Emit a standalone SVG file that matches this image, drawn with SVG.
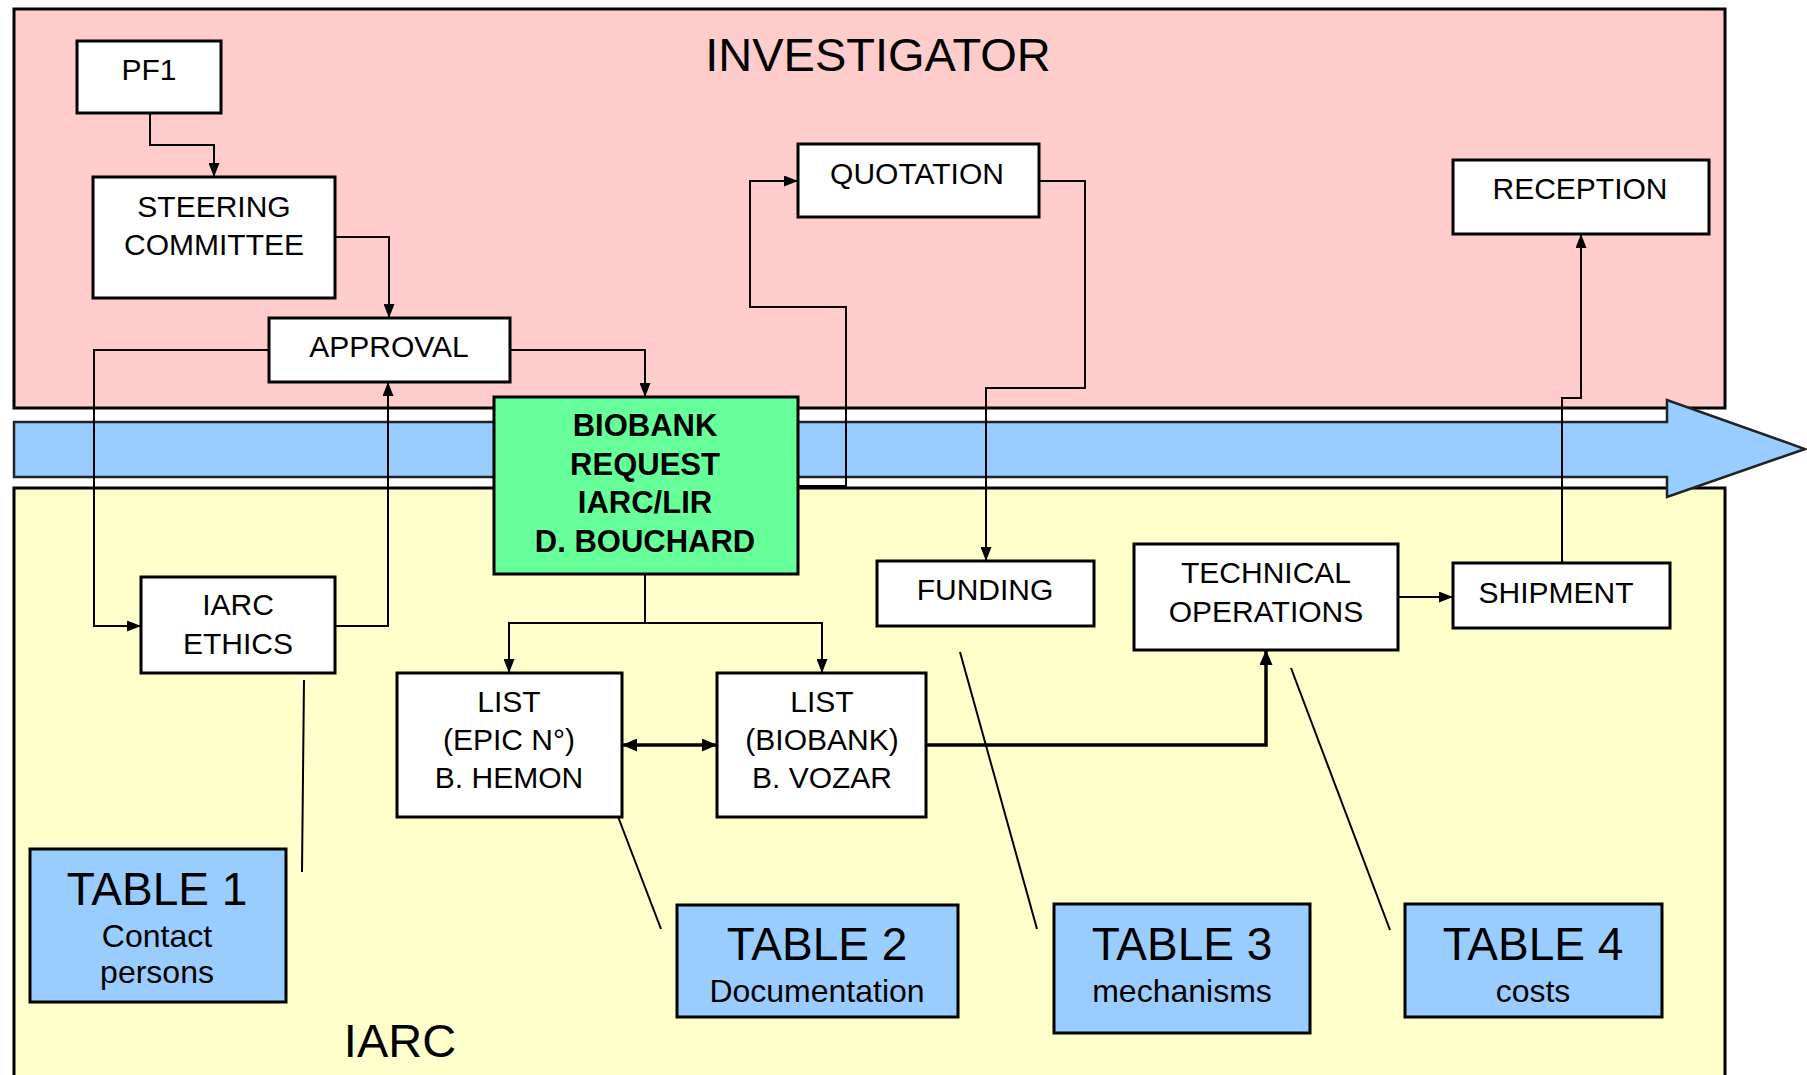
<svg xmlns="http://www.w3.org/2000/svg" width="1807" height="1075" viewBox="0 0 1807 1075">
<defs>
<marker id="ah" viewBox="0 0 14 11" refX="14" refY="5.5" markerWidth="14" markerHeight="11" markerUnits="userSpaceOnUse" orient="auto-start-reverse"><path d="M0,0 L14,5.5 L0,11 z" fill="#000"/></marker>
<marker id="ahb" viewBox="0 0 15 13" refX="15" refY="6.5" markerWidth="15" markerHeight="13" markerUnits="userSpaceOnUse" orient="auto-start-reverse"><path d="M0,0 L15,6.5 L0,13 z" fill="#000"/></marker>
<style>
.box{fill:#fff;stroke:#000;stroke-width:3}
.tbl{fill:#99CCFF;stroke:#000;stroke-width:3}
.t{font-family:"Liberation Sans",Arial,sans-serif;font-size:30px;text-anchor:middle;fill:#000}
.tb{font-family:"Liberation Sans",Arial,sans-serif;font-size:31px;font-weight:bold;text-anchor:middle;fill:#000}
.big{font-family:"Liberation Sans",Arial,sans-serif;font-size:46px;text-anchor:middle;fill:#000}
.sub{font-family:"Liberation Sans",Arial,sans-serif;font-size:32px;text-anchor:middle;fill:#000}
.title{font-family:"Liberation Sans",Arial,sans-serif;font-size:47px;text-anchor:middle;fill:#000}
.c{fill:none;stroke:#000;stroke-width:2}
.ck{fill:none;stroke:#000;stroke-width:3.5}
.thin{fill:none;stroke:#000;stroke-width:2}
</style>
</defs>
<rect width="1807" height="1075" fill="#fff"/>
<g id="investigator">
<rect x="14" y="9" width="1711" height="399" fill="#FFCCCC" stroke="#000" stroke-width="3"/>
<text class="title" x="878" y="71">INVESTIGATOR</text>
</g>
<g id="iarc">
<rect x="14" y="488" width="1711" height="600" fill="#FFFFCC" stroke="#000" stroke-width="3"/>
<text class="title" x="400" y="1057">IARC</text>
</g>
<g id="timeline">
<path d="M14,422 H1667 V400 L1805,449 L1667,497 V477 H14 Z" fill="#99CCFF" stroke="#222" stroke-width="2.5" stroke-linejoin="miter"/>
</g>
<g id="connectors">
<path class="c" d="M150,113 V145 H214 V177" marker-end="url(#ah)"/>
<path class="c" d="M335,237 H389 V318" marker-end="url(#ah)"/>
<path class="c" d="M510,350 H645 V397" marker-end="url(#ah)"/>
<path class="c" d="M269,350 H94 V626 H141" marker-end="url(#ah)"/>
<path class="c" d="M335,626 H388 V382" marker-end="url(#ah)"/>
<path class="c" d="M798,486 H846 V307 H750 V181 H798" marker-end="url(#ah)"/>
<path class="c" d="M1039,181 H1085 V388 H986 V561" marker-end="url(#ah)"/>
<path class="c" d="M645,574 V623 H509 V673" marker-end="url(#ah)"/>
<path class="c" d="M645,623 H822 V673" marker-end="url(#ah)"/>
<path class="ck" d="M622,745 H717" marker-start="url(#ahb)" marker-end="url(#ahb)"/>
<path class="ck" d="M926,745 H1266 V650" marker-end="url(#ahb)"/>
<path class="c" d="M1398,597 H1453" marker-end="url(#ah)"/>
<path class="c" d="M1562,563 V398 H1581 V234" marker-end="url(#ah)"/>
<path class="thin" d="M304,680 L302,872"/>
<path class="thin" d="M617,814 L661,929"/>
<path class="thin" d="M960,652 L1037,929"/>
<path class="thin" d="M1291,668 L1390,930"/>
</g>
<g id="pf1"><rect class="box" x="77" y="41" width="144" height="72"/><text class="t" x="149" y="80">PF1</text></g>
<g id="steering"><rect class="box" x="93" y="177" width="242" height="121"/><text class="t" x="214" y="217">STEERING</text><text class="t" x="214" y="255">COMMITTEE</text></g>
<g id="approval"><rect class="box" x="269" y="318" width="241" height="64"/><text class="t" x="389" y="357">APPROVAL</text></g>
<g id="biobank"><rect x="494" y="397" width="304" height="177" fill="#66FF99" stroke="#000" stroke-width="3"/><text class="tb" x="645" y="436">BIOBANK</text><text class="tb" x="645" y="475">REQUEST</text><text class="tb" x="645" y="513">IARC/LIR</text><text class="tb" x="645" y="552">D. BOUCHARD</text></g>
<g id="ethics"><rect class="box" x="141" y="577" width="194" height="96"/><text class="t" x="238" y="615">IARC</text><text class="t" x="238" y="654">ETHICS</text></g>
<g id="quotation"><rect class="box" x="798" y="144" width="241" height="73"/><text class="t" x="917" y="184">QUOTATION</text></g>
<g id="reception"><rect class="box" x="1453" y="160" width="256" height="74"/><text class="t" x="1580" y="199">RECEPTION</text></g>
<g id="funding"><rect class="box" x="877" y="561" width="217" height="65"/><text class="t" x="985" y="600">FUNDING</text></g>
<g id="techops"><rect class="box" x="1134" y="544" width="264" height="106" stroke-width="3.5"/><text class="t" x="1266" y="583">TECHNICAL</text><text class="t" x="1266" y="622">OPERATIONS</text></g>
<g id="shipment"><rect class="box" x="1453" y="563" width="217" height="65"/><text class="t" x="1556" y="603">SHIPMENT</text></g>
<g id="list-epic"><rect class="box" x="397" y="673" width="225" height="144"/><text class="t" x="509" y="712">LIST</text><text class="t" x="509" y="750">(EPIC N°)</text><text class="t" x="509" y="788">B. HEMON</text></g>
<g id="list-biobank"><rect class="box" x="717" y="673" width="209" height="144"/><text class="t" x="822" y="712">LIST</text><text class="t" x="822" y="750">(BIOBANK)</text><text class="t" x="822" y="788">B. VOZAR</text></g>
<g id="table1"><rect class="tbl" x="30" y="849" width="256" height="153"/><text class="big" x="157" y="905">TABLE 1</text><text class="sub" x="157" y="947">Contact</text><text class="sub" x="157" y="983">persons</text></g>
<g id="table2"><rect class="tbl" x="677" y="905" width="281" height="112"/><text class="big" x="817" y="960">TABLE 2</text><text class="sub" x="817" y="1002">Documentation</text></g>
<g id="table3"><rect class="tbl" x="1054" y="904" width="256" height="129"/><text class="big" x="1182" y="960">TABLE 3</text><text class="sub" x="1182" y="1002">mechanisms</text></g>
<g id="table4"><rect class="tbl" x="1405" y="904" width="257" height="113"/><text class="big" x="1533" y="960">TABLE 4</text><text class="sub" x="1533" y="1002">costs</text></g>
</svg>
